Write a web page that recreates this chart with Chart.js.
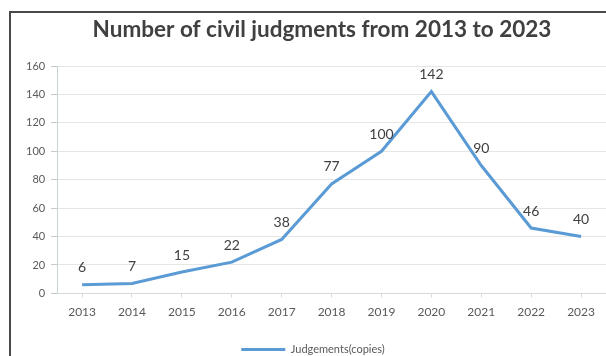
<!DOCTYPE html>
<html>
<head>
<meta charset="utf-8">
<script src="https://cdn.jsdelivr.net/npm/chart.js@4"></script>
<style>
  body { margin: 0; background: #fff; overflow: hidden; }
  #frame { position: absolute; left: 9px; top: 11px; width: 700px; height: 400px;
           border-left: 2px solid #4a4a4a; border-top: 2px solid #4a4a4a; }
  #c { position: absolute; left: 0; top: 0; }
</style>
</head>
<body>
<div id="frame"></div>
<canvas id="c" width="606" height="356"></canvas>
<script>
const years = ['2013', '2014', '2015', '2016', '2017', '2018', '2019', '2020', '2021', '2022', '2023'];
const judgements = [6, 7, 15, 22, 38, 77, 100, 142, 90, 46, 40];
const yTicks = [0, 20, 40, 60, 80, 100, 120, 140, 160];
const titleText = 'Number of civil judgments from 2013 to 2023';

// title sits centred over the framed box, a little right of the canvas centre
const chartTitle = {
    id: 'chartTitle',
    afterDraw(chart) {
        const ctx = chart.ctx;
        ctx.save();
        ctx.font = 'bold 22.5px Lato, "Open Sans", sans-serif';
        ctx.fillStyle = '#404040';
        ctx.textAlign = 'center';
        ctx.textBaseline = 'middle';
        ctx.fillText(titleText, (chart.width + 38) / 2, 30);
        ctx.restore();
    }
};

const pointLabels = {
    id: 'pointLabels',
    afterDatasetsDraw(chart) {
        const ctx = chart.ctx;
        const meta = chart.getDatasetMeta(0);
        ctx.save();
        ctx.font = '14px Lato, "Open Sans", sans-serif';
        ctx.fillStyle = '#404040';
        ctx.textAlign = 'center';
        ctx.textBaseline = 'middle';
        meta.data.forEach((pt, i) => {
            ctx.fillText(String(judgements[i]), pt.x, pt.y - 17);
        });
        ctx.restore();
    }
};

new Chart(document.getElementById('c'), {
    type: 'line',
    data: {
        labels: years,
        datasets: [{
            label: 'Judgements(copies)',
            data: judgements,
            borderColor: '#5b9bd5',
            backgroundColor: '#5b9bd5',
            borderWidth: 3,
            pointRadius: 0,
            tension: 0,
        }],
    },
    options: {
        responsive: false,
        animation: { duration: 0 },
        layout: { padding: { left: 20, right: 0, top: 66, bottom: -9 } },
        plugins: {
            title: { display: false },
            legend: {
                position: 'bottom',
                title: { display: true, text: ' ', font: { size: 1 }, padding: { top: 15, bottom: 0 } },
                labels: {
                    color: '#595959',
                    font: { family: 'Lato, "Open Sans", sans-serif', size: 11 },
                    boxWidth: 44,
                    boxHeight: 0,
                    padding: 0,
                },
            },
            tooltip: { enabled: false },
        },
        scales: {
            x: {
                offset: true,
                grid: { drawOnChartArea: false, color: '#d9d9d9', tickLength: 4 },
                border: { color: '#d9d9d9' },
                ticks: {
                    color: '#595959',
                    font: { family: 'Lato, "Open Sans", sans-serif', size: 12 },
                    maxRotation: 0,
                    padding: 8,
                },
            },
            y: {
                min: 0,
                max: 160,
                afterBuildTicks(axis) { axis.ticks = yTicks.map(v => ({ value: v })); },
                grid: { color: '#e6e6e6', tickColor: '#c8c8c8', tickLength: 6 },
                border: { color: '#c8d4cf' },
                ticks: {
                    color: '#595959',
                    font: { family: 'Lato, "Open Sans", sans-serif', size: 11 },
                    padding: 6,
                },
            },
        },
    },
    plugins: [pointLabels, chartTitle],
});
</script>
</body>
</html>
